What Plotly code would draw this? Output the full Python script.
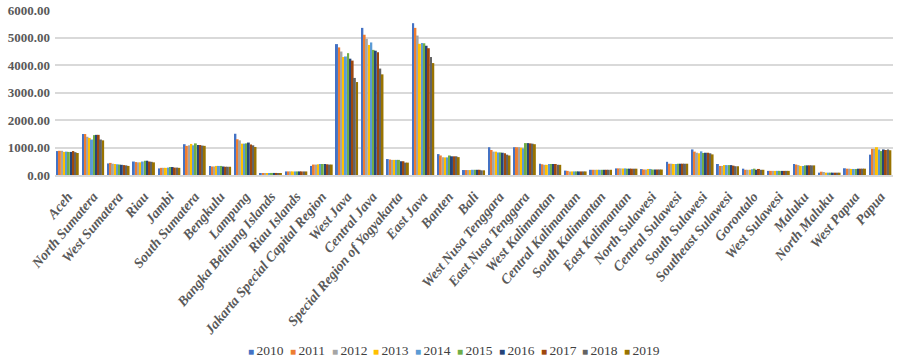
import plotly.graph_objects as go

provinces = ["Aceh", "North Sumatera", "West Sumatera", "Riau", "Jambi", "South Sumatera",
             "Bengkulu", "Lampung", "Bangka Belitung Islands", "Riau Islands",
             "Jakarta Special Capital Region", "West Java", "Central Java",
             "Special Region of Yogyakarta", "East Java", "Banten", "Bali",
             "West Nusa Tenggara", "East Nusa Tenggara", "West Kalimantan",
             "Central Kalimantan", "South Kalimantan", "East Kalimantan", "North Sulawesi",
             "Central Sulawesi", "South Sulawesi", "Southeast Sulawesi", "Gorontalo",
             "West Sulawesi", "Maluku", "North Maluku", "West Papua", "Papua"]

years = ["2010", "2011", "2012", "2013", "2014", "2015", "2016", "2017", "2018", "2019"]

# values per province (2010..2019)
aceh = [870, 880, 880, 840, 850, 840, 840, 870, 830, 800]
north_sumatera = [1490, 1490, 1390, 1350, 1290, 1450, 1460, 1460, 1290, 1260]
west_sumatera = [420, 440, 410, 400, 390, 380, 370, 360, 350, 330]
riau = [490, 470, 460, 460, 490, 520, 520, 490, 480, 460]
jambi = [240, 260, 260, 260, 270, 290, 290, 270, 270, 260]
south_sumatera = [1120, 1060, 1080, 1130, 1080, 1150, 1090, 1090, 1070, 1060]
bengkulu = [330, 310, 310, 330, 330, 330, 310, 300, 300, 300]
lampung = [1500, 1300, 1260, 1140, 1140, 1150, 1180, 1110, 1080, 1020]
bangka_belitung = [70, 70, 65, 65, 70, 75, 75, 75, 70, 70]
riau_islands = [130, 130, 130, 130, 130, 130, 130, 130, 130, 130]
jakarta = [330, 380, 380, 390, 400, 400, 400, 390, 380, 380]
west_java = [4760, 4640, 4490, 4290, 4310, 4430, 4230, 4160, 3530, 3380]
central_java = [5350, 5100, 4950, 4730, 4820, 4550, 4520, 4460, 3870, 3660]
yogyakarta = [580, 560, 550, 550, 550, 550, 500, 500, 450, 450]
east_java = [5520, 5350, 5070, 4770, 4800, 4790, 4700, 4610, 4290, 4070]
banten = [760, 710, 650, 640, 640, 710, 680, 680, 680, 650]
bali = [180, 180, 180, 180, 190, 190, 190, 190, 170, 170]
west_nusa_tenggara = [1010, 910, 850, 850, 820, 820, 810, 790, 740, 710]
east_nusa_tenggara = [1010, 1010, 1010, 990, 970, 1160, 1160, 1150, 1140, 1120]
west_kalimantan = [410, 390, 370, 370, 400, 400, 400, 400, 370, 370]
central_kalimantan = [160, 150, 130, 130, 130, 130, 130, 130, 130, 130]
south_kalimantan = [190, 190, 190, 190, 190, 190, 190, 190, 190, 190]
east_kalimantan = [240, 240, 240, 240, 240, 230, 230, 230, 230, 230]
north_sulawesi = [215, 200, 200, 220, 220, 200, 200, 200, 200, 200]
central_sulawesi = [480, 410, 410, 400, 400, 410, 410, 410, 410, 410]
south_sulawesi = [930, 850, 810, 790, 860, 800, 810, 810, 790, 750]
southeast_sulawesi = [400, 330, 330, 360, 360, 360, 360, 340, 320, 320]
gorontalo = [230, 190, 190, 190, 210, 230, 190, 220, 190, 190]
west_sulawesi = [150, 150, 150, 150, 150, 150, 150, 150, 150, 150]
maluku = [400, 380, 360, 330, 330, 350, 350, 350, 350, 350]
north_maluku = [85, 120, 110, 85, 85, 85, 85, 85, 85, 85]
west_papua = [245, 230, 230, 220, 220, 220, 230, 230, 230, 230]
papua = [740, 950, 950, 1010, 930, 870, 930, 910, 930, 900]

table = [aceh, north_sumatera, west_sumatera, riau, jambi, south_sumatera, bengkulu,
         lampung, bangka_belitung, riau_islands, jakarta, west_java, central_java,
         yogyakarta, east_java, banten, bali, west_nusa_tenggara, east_nusa_tenggara,
         west_kalimantan, central_kalimantan, south_kalimantan, east_kalimantan,
         north_sulawesi, central_sulawesi, south_sulawesi, southeast_sulawesi, gorontalo,
         west_sulawesi, maluku, north_maluku, west_papua, papua]

colors = ["#4472C4", "#ED7D31", "#A5A5A5", "#FFC000", "#5B9BD5",
          "#70AD47", "#264478", "#9E480E", "#636363", "#997300"]

font_family = "Times New Roman, Liberation Serif, DejaVu Serif, serif"

fig = go.Figure()
for i, y in enumerate(years):
    fig.add_trace(go.Bar(
        x=provinces, y=[row[i] for row in table], name=y,
        marker=dict(color=colors[i], line=dict(width=0)),
        showlegend=False,
    ))

# compact legend drawn as text entries below the plot
legend_left_px = 246
legend_step_px = 41.8
plot_left, plot_w = 55, 838
annotations = []
for i, y in enumerate(years):
    px = legend_left_px + i * legend_step_px
    annotations.append(dict(
        x=(px - plot_left) / plot_w, y=-1.065, xref="paper", yref="paper",
        xanchor="left", yanchor="middle", showarrow=False,
        text=f"<span style='color:{colors[i]};font-size:10px'>■ </span>{y}",
        font=dict(family=font_family, size=13.5, color="#404040"),
    ))

fig.update_layout(
    width=900, height=363,
    margin=dict(l=55, r=7, t=10, b=188),
    barmode="group", bargap=0.12, bargroupgap=0.12,
    plot_bgcolor="white", paper_bgcolor="white",
    font=dict(family=font_family, color="#595959"),
    showlegend=False,
    annotations=annotations,
    xaxis=dict(tickangle=-50, automargin=False,
               tickfont=dict(family=font_family, size=14, color="#595959",
                             weight="bold", style="italic"),
               showline=True, linecolor="#D9D9D9", linewidth=1.5, ticks="",
               ticklabelstandoff=6, showgrid=False),
    yaxis=dict(range=[0, 6000], dtick=1000, tickformat=".2f", automargin=False,
               tickfont=dict(family=font_family, size=13, color="#595959", weight="bold"),
               showgrid=True, gridcolor="#D9D9D9", gridwidth=1.5, zeroline=False,
               showline=False, ticklabelstandoff=4),
)

# remove the default 8px page margin so the figure fills the window exactly
fig.write_html("out.html",
               config={"displayModeBar": False},
               post_script="document.body.style.margin='0';")
